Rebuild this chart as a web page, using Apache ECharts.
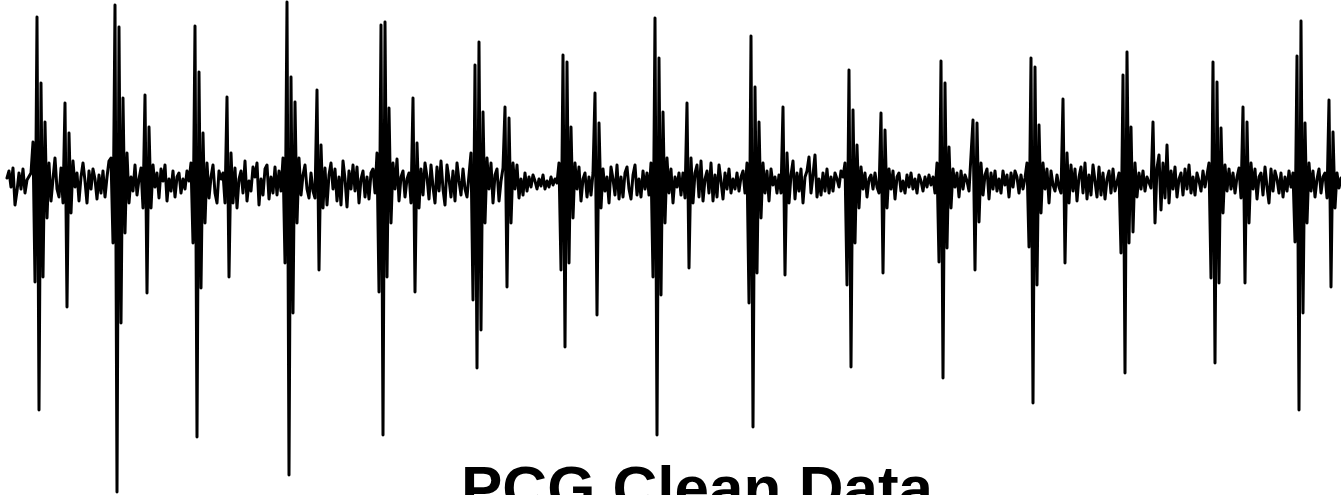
<!DOCTYPE html>
<html>
<head>
<meta charset="utf-8">
<title>PCG Clean Data</title>
<script src="https://cdn.jsdelivr.net/npm/echarts@6/dist/echarts.min.js"></script>
<style>
  html, body { margin: 0; padding: 0; background: #ffffff; }
  #chart { width: 1341px; height: 495px; }
</style>
</head>
<body>
<div id="chart"></div>
<script>
// Filtered phonocardiogram, amplitude in arbitrary units, one value per sample.
// The recording is split into heart cycles (S1 burst, S2 burst, then quiet diastole).
const lead = [5, 12, -4, 15, -22, -8, 10, -6, 14, -10, 3, 5];
const cycle1 = [10, 41, -99, 166, -227, 100, -94, 61, -35,
  20, -18, 4, 25, -6, -14, 15, -20,
  80, -124, 50,
  -30, 22, -4, 10, -18, 6, 20, 2, -20, 12, -6, 14, 4, -16, 8, -10, 12, -14, 6, 22];
const cycle2 = [25, -60, 178, -309, 156, -140, 85, -50,
  30, -20, 6, -8, 18, -12, 4,
  15, -25, 88, -110, 56,
  -25, 18, -4, 10, -15, 14, 2, 18, -18, 4, -8, 12, -14, 6, 10, -10, 4, -6, 12, 2];
const cycle3 = [20, -60, 157, -254, 111, -105, 50, -40,
  20, -15, 6, 18, -10, -20, 12, 4,
  10, -20, 86, -94, 30, -20,
  15, -25, 4, 12, -10, 22, -18, 2, -8, 16, 6, 20, -22, 4, -12, 14, 18, -16, 6, -10, 16, -12, 12, -8];
const cycle4 = [25, -80, 181, -292, 106, -130, 81, -40,
  25, -12, 8, 18, -6, -15, 10, -8, -15,
  93, -87, 38, -25,
  15, -22, 8, 20, -6, 14, -18, 6, -22, 22, 4, -24, 12, -6, 18, -8, 16, -20, 4, 12, -14, 6, -16, 10, 14, -10, 30];
const cycle5 = [-109, 158, -252, 161, -94, 75,
  -40, 20, -6, 24, -18, 6, 12, -14, 4, 10, -20,
  85, -109, 40, -25,
  14, -12, 20, 6, -16, 18, -4, -20, 16, -8, 22, -6, -22, 18, 4, -14, 12, -18, 20, 2, -12, 14, -6, -14, 8];
const cycle6 = [30, -117, 118, -185, 141, -147, 71,
  -40, 25, -6, 20, -20, 8, 14, -18, 2, 15,
  76, -104, 65,
  -40, 20, -6, 18, -15, 4, -12, 10, -8, 6, -4, 8, 2, -6, 4, -3, 8, -6, 2, -4, 6, -2, 4, 0];
const cycle7 = [20, -87, 128, -164, 121, -80, 56,
  -35, 20, -6, 16, -18, 4, 10, -14, 6, -12, 10,
  90, -132, 60,
  -25, 14, -8, 6, -20, 16, 4, -12, 18, -16, 6, -14, 10, 16, -6, -16, 8, 18, -12, 4, -14, 12, -6, 10, -12];
const cycle8 = [20, -94, 165, -252, 125, -112, 71,
  -40, 25, -10, 14, -20, 6, -4, 10, -12, 10, -15,
  80, -85,
  25, -20, 10, 18, -14, 22, -18, 4, 12, -10, 20, -18, 8, -14, 18, 2, -16, 10, -6, 14, -10, 4, -6, 10, -8, 6, 12, -10];
const cycle9 = [20, -120, 147, -244, 96, -90, 61,
  -35, 20, -10, 12, -18, 14, -2, 6, -10, 8, -10,
  76, -92,
  30, -20, 8, 22, -16, 10, -8, 14, -20, 6, 12, 26, -10, 8, 28, -14, 4, -12, 10, -8, 14, -10, 6, -8, 10, 4, -4, 12, 6];
const cycle10 = [20, -102, 113, -184, 73, -60, 38,
  -25, 16, -6, 10, -14, 4, 8, -6, 10, -4, -10,
  70, -90, 53,
  -25, 14, -6, 12, -16, 6, 10, -8, 2, -10, 8, -4, 10, -6, 4, -10, 8, 2, -8, 6, -4, 8, -2, 6, -10];
const cycle11 = [20, -79, 122, -195, 100, -65, 36,
  -25, 14, -4, 10, -14, 12, -6, 8, 2, -8, -10,
  63, -87, 60, -39,
  20, -12, 8, 14, -16, 10, -6, 12, -8, 4, -10, 12, -2, 8, -14, 10, -4, 12, 6, -10, 8, -6, 5];
const cycle12 = [20, -64, 125, -220, 116, -102, 58,
  -30, 20, -6, 14, -20, 12, -2, -8, 8, -4, -10,
  84, -80, 30,
  -20, 18, -8, 14, -18, 6, 16, -10, 20, -16, 8, -12, 18, 2, -14, 16, -12, 10, -16, 4, 12, -10, 14, -8, -6];
const cycle13 = [10, -70, 108, -190, 131, -60, 56, -49,
  20, -14, 10, -6, 12, -8, 6, 8, -5,
  61, -40, 15, 28, -27, 20, -15, 38,
  -20, 12, -6, 16, -14, 4, 10, -12, 14, -6, 18, -10, 6, -12, 10, 2, -8, 12, -4];
const cycle14 = [8, 20, -95, 121, -180, 101, -100, 55,
  -30, 18, -8, 14, -6, 10, -10, 6, 15, -15,
  76, -100, 61,
  -40, 20, -6, 14, -16, 6, 10, -12, 16, -4, -20, 14, -8, 12, 4, -10, 10, -14, 6, -8, 12, -4, 10];
const cycle15 = [-59, 127, -227, 162, -130, 60,
  -40, 20, -8, 12, -14, 4, 14, -10, 6, 10, -15,
  83, -104, 51, -25, 10, -5, 5];

const signal = [].concat(lead, cycle1, cycle2, cycle3, cycle4, cycle5, cycle6, cycle7, cycle8,
  cycle9, cycle10, cycle11, cycle12, cycle13, cycle14, cycle15);

const chartTitle = 'PCG Clean Data';

const chart = echarts.init(document.getElementById('chart'), null, { renderer: 'canvas' });
chart.setOption({
  animation: false,
  backgroundColor: '#ffffff',
  title: {
    text: chartTitle,
    left: 461,
    top: 461,
    padding: 0,
    textStyle: {
      fontFamily: '"Liberation Sans", Arial, Helvetica, sans-serif',
      fontSize: 62,
      fontWeight: 'bold',
      color: '#000000'
    }
  },
  grid: { left: 7, right: 0, top: 0, bottom: 0, containLabel: false },
  xAxis: {
    type: 'value',
    min: 0,
    max: signal.length - 1,
    show: false
  },
  yAxis: {
    type: 'value',
    min: -312,
    max: 183,
    show: false
  },
  series: [{
    type: 'line',
    data: signal.map((v, i) => [i, v]),
    showSymbol: false,
    symbol: 'none',
    clip: false,
    lineStyle: { color: '#000000', width: 3, join: 'round', cap: 'round' }
  }]
});
</script>
</body>
</html>
